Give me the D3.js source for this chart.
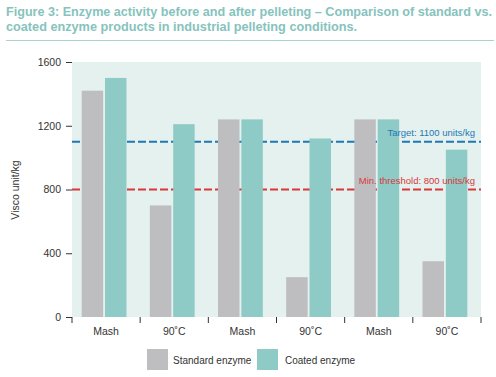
<!DOCTYPE html>
<html><head><meta charset="utf-8">
<script src="https://cdn.jsdelivr.net/npm/d3@7"></script>
<style>body{margin:0;background:#fff;}svg{display:block;font-family:"Liberation Sans",Arial,sans-serif;}</style>
</head><body>
<svg id="c" width="496" height="377"></svg>
<script>
const categories = ["Mash", "90˚C", "Mash", "90˚C", "Mash", "90˚C"];
const seriesNames = ["Standard enzyme", "Coated enzyme"];
const standardValues = [1420, 700, 1240, 250, 1240, 350];
const coatedValues = [1500, 1210, 1240, 1120, 1240, 1050];
const yTicks = [0, 400, 800, 1200, 1600];
const refLines = [{value: 1100, label: "Target: 1100 units/kg", color: "#1f78b4"},
                  {value: 800, label: "Min. threshold: 800 units/kg", color: "#d9383a"}];
const colors = ["#bebec1", "#8ecbc6"];

const svg = d3.select("#c");
const L = 72, R = 481, T = 62, B = 317;
const x = d3.scaleBand().domain(d3.range(categories.length)).range([L, R]).paddingInner(0).paddingOuter(0);
const y = d3.scaleLinear().domain([0, 1600]).range([B, T]);
const sub = d3.scaleBand().domain([0, 1]).range([0, x.bandwidth()]).paddingInner(0.08).paddingOuter(0.5);

// title
svg.append("text").attr("x", 6).attr("y", 16).attr("fill", "#86c3bd").attr("font-weight", "bold")
  .attr("font-size", 12.7).attr("textLength", 486).attr("lengthAdjust", "spacingAndGlyphs")
  .text("Figure 3: Enzyme activity before and after pelleting – Comparison of standard vs.");
svg.append("text").attr("x", 6).attr("y", 31).attr("fill", "#86c3bd").attr("font-weight", "bold")
  .attr("font-size", 12.7).text("coated enzyme products in industrial pelleting conditions.");
svg.append("line").attr("x1", 6).attr("x2", 494).attr("y1", 40.5).attr("y2", 40.5).attr("stroke", "#a9d3ce").attr("stroke-width", 1);

// background
svg.append("rect").attr("x", L).attr("y", T).attr("width", R - L).attr("height", B - T).attr("fill", "#e4f1ef");

// reference lines (behind bars)
refLines.forEach(r => {
  svg.append("line").attr("x1", L).attr("x2", R).attr("y1", y(r.value)).attr("y2", y(r.value))
    .attr("stroke", r.color).attr("stroke-width", 2).attr("stroke-dasharray", "8,3");
});

// bars
const data = categories.map((c, i) => ({i, vals: [standardValues[i], coatedValues[i]]}));
const g = svg.selectAll("g.grp").data(data).join("g").attr("class", "grp")
  .attr("transform", d => `translate(${x(d.i) - 2},0)`);
g.selectAll("rect").data(d => d.vals.map((v, k) => ({v, k}))).join("rect")
  .attr("x", d => sub(d.k)).attr("width", sub.bandwidth())
  .attr("y", d => y(d.v)).attr("height", d => B - y(d.v)).attr("fill", d => colors[d.k]);

// reference labels on top
refLines.forEach(r => {
  svg.append("text").attr("x", 475).attr("y", y(r.value) - 6).attr("text-anchor", "end")
    .attr("fill", r.color).attr("font-size", 9.5).text(r.label);
});

// y axis
const ya = svg.append("g").attr("transform", `translate(${L},0)`)
  .call(d3.axisLeft(y).tickValues(yTicks).tickSize(6).tickPadding(5).tickFormat(d3.format("d")));
ya.select(".domain").remove();
ya.selectAll("line").attr("stroke", "#333");
ya.selectAll("text").attr("font-size", 10.5).attr("fill", "#333").attr("font-family", "Liberation Sans, Arial, sans-serif");

// x axis
const xa = svg.append("g").attr("transform", `translate(0,${B})`)
  .call(d3.axisBottom(x).tickFormat(i => categories[i]).tickSize(0).tickPadding(11));
xa.select(".domain").remove();
xa.selectAll("text").attr("font-size", 10.5).attr("fill", "#333").attr("font-family", "Liberation Sans, Arial, sans-serif");
const bounds = d3.range(categories.length + 1).map(i => i === categories.length ? R : x(i));
svg.selectAll("line.bt").data(bounds).join("line").attr("class", "bt")
  .attr("x1", d => d).attr("x2", d => d).attr("y1", B).attr("y2", B + 6).attr("stroke", "#333");

// y label
svg.append("text").attr("transform", `translate(19,190) rotate(-90)`).attr("text-anchor", "middle")
  .attr("font-size", 10.5).attr("fill", "#333").text("Visco unit/kg");

// legend
const lg = [{x: 147, tx: 173}, {x: 257, tx: 285}];
seriesNames.forEach((n, k) => {
  svg.append("rect").attr("x", lg[k].x).attr("y", 349).attr("width", 21).attr("height", 21).attr("fill", colors[k]);
  svg.append("text").attr("x", lg[k].tx).attr("y", 364).attr("font-size", 10).attr("fill", "#333").text(n);
});
</script>
</body></html>
